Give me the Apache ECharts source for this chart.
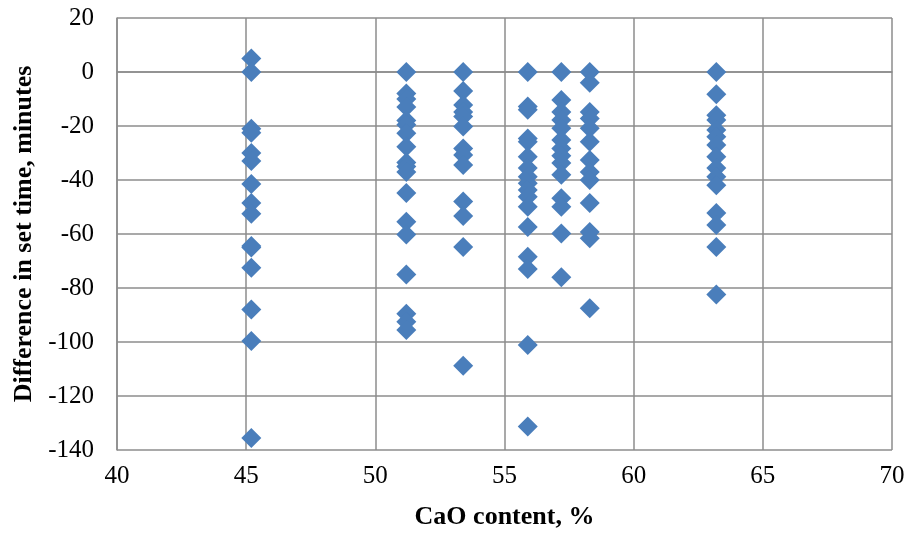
<!DOCTYPE html>
<html>
<head>
<meta charset="utf-8">
<script src="https://cdn.jsdelivr.net/npm/echarts@6/dist/echarts.min.js"></script>
<style>html,body{margin:0;padding:0;background:#fff}#c{width:910px;height:537px}</style>
</head>
<body>
<div id="c"></div>
<script>
var xTitle = 'CaO content, %';
var yTitle = 'Difference in set time, minutes';
var cao452 = [5, 0, -21, -22.5, -30, -33, -41.5, -48.5, -52.5, -64.4, -65, -72.5, -88, -99.6, -135.6];
var cao512 = [0, -8, -10, -13, -18, -19.5, -22.7, -27.7, -33.5, -35, -37, -44.8, -55.5, -60.2, -75, -89.5, -92.5, -95.6];
var cao534 = [0, -7, -12.2, -14.8, -16.5, -20.2, -28.3, -30.7, -34.4, -48, -53.3, -64.8, -108.8];
var cao559 = [0, -12.8, -14, -24.6, -25.8, -31.4, -35.6, -38.8, -41.2, -43.7, -46.2, -49.9, -57.4, -68.4, -73, -101.1, -131.3];
var cao572 = [0, -10.4, -14.8, -17.8, -20.8, -25.2, -28.3, -31, -33.7, -38.1, -46.8, -49.9, -59.8, -76];
var cao583 = [0, -4, -14.8, -17.2, -20.8, -25.8, -32.6, -37, -40, -48.5, -59.3, -61.6, -87.5];
var cao632 = [0, -8.2, -16, -17.8, -21.5, -24, -27, -31.4, -35.6, -38.8, -41.9, -52.2, -56.7, -64.8, -82.4];
var groups = [[45.2, cao452], [51.2, cao512], [53.4, cao534], [55.9, cao559], [57.2, cao572], [58.3, cao583], [63.2, cao632]];
var data = [];
groups.forEach(function (g) { g[1].forEach(function (v) { data.push([g[0], v]); }); });

var chart = echarts.init(document.getElementById('c'));
var font = 'Liberation Serif';
var gridColor = '#8c8c8c';
chart.setOption({
  animation: false,
  grid: { left: 117, right: 18, top: 18, bottom: 87, containLabel: false },
  xAxis: {
    type: 'value', min: 40, max: 70, interval: 5,
    name: xTitle, nameLocation: 'middle', nameGap: 54,
    nameTextStyle: { fontFamily: font, fontSize: 26, fontWeight: 'bold', color: '#000' },
    axisLine: { show: true, lineStyle: { color: gridColor, width: 1.5 } },
    axisTick: { show: false },
    axisLabel: { fontFamily: font, fontSize: 25, color: '#000', margin: 14 },
    splitLine: { show: true, lineStyle: { color: gridColor, width: 1.5 } }
  },
  yAxis: {
    type: 'value', min: -140, max: 20, interval: 20,
    name: yTitle, nameLocation: 'middle', nameGap: 77, nameRotate: 90,
    nameTextStyle: { fontFamily: font, fontSize: 26, fontWeight: 'bold', color: '#000' },
    axisLine: { show: true, lineStyle: { color: gridColor, width: 1.5 } },
    axisTick: { show: false },
    axisLabel: { fontFamily: font, fontSize: 25, color: '#000', margin: 23 },
    splitLine: { show: true, lineStyle: { color: gridColor, width: 1.5 } }
  },
  series: [{
    type: 'scatter',
    symbol: 'diamond',
    symbolSize: 20,
    itemStyle: { color: '#4A7EBB', opacity: 1 },
    data: data
  }]
});
</script>
</body>
</html>
